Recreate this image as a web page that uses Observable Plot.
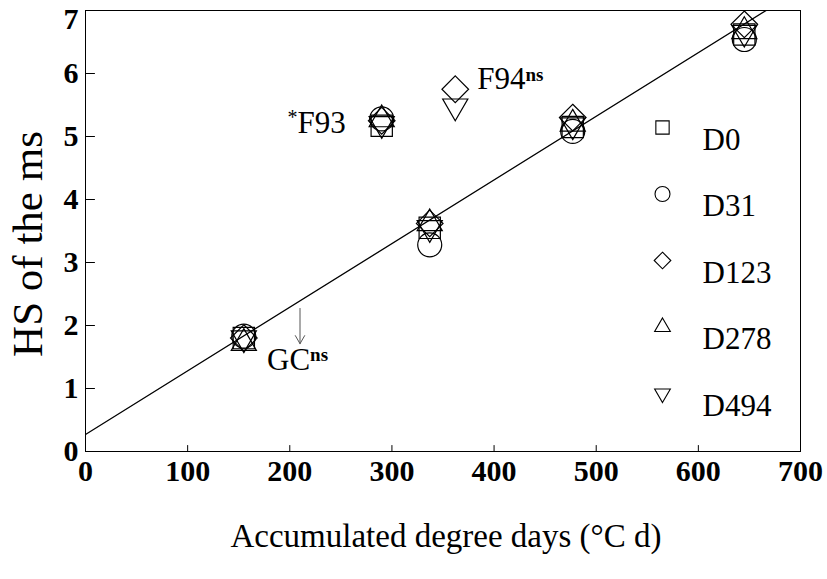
<!DOCTYPE html>
<html>
<head>
<meta charset="utf-8">
<script src="https://cdn.jsdelivr.net/npm/d3@7"></script>
<script src="https://cdn.jsdelivr.net/npm/@observablehq/plot@0.6"></script>
<style>
  body { margin: 0; background: #fff; }
</style>
</head>
<body>
<div id="chart"></div>
<script>
// Sowing dates (days) and the sampling occasions, in accumulated degree days
const series = ["D0", "D31", "D123", "D278", "D494"];
const occasionDays = [155, 290, 337, 362, 477, 645];

// Haun stage of the main stem per sowing, aligned with occasionDays (null = not sampled)
const hsD0   = [1.80, 5.17, 3.55, null, 5.15, 6.62];
const hsD31  = [1.83, 5.28, 3.28, null, 5.08, 6.54];
const hsD123 = [1.80, 5.25, 3.62, 5.75, 5.30, 6.78];
const hsD278 = [1.72, 5.27, 3.62, null, 5.20, 6.67];
const hsD494 = [1.80, 5.20, 3.55, 5.48, 5.18, 6.65];

// Common linear fit HS = a + b * degree days
const fitIntercept = 0.27;
const fitSlope = 0.0101;
const fitRange = [0, 700];

// Growth cessation day and the annotated occasions
const gcDay = 210;
const annoText = ["F93", "F94", "GC"];
const annoPrefix = ["*", "", ""];
const annoSuffix = ["", "ns", "ns"];

const xTicks = [0, 100, 200, 300, 400, 500, 600, 700];
const yTicks = [0, 1, 2, 3, 4, 5, 6, 7];

// Long table for the dot mark
const hsBySeries = [hsD0, hsD31, hsD123, hsD278, hsD494];
const points = [];
series.forEach((s, i) => {
  occasionDays.forEach((x, j) => {
    const y = hsBySeries[i][j];
    if (y != null) points.push({series: s, x, y});
  });
});

// Downward-pointing triangle, same proportions as d3.symbolTriangle2
const triangleDown = {
  draw(context, size) {
    const s = Math.sqrt(size) * 0.6824;
    const t = s / 2;
    const u = (s * Math.sqrt(3)) / 2;
    context.moveTo(0, s);
    context.lineTo(u, -t);
    context.lineTo(-u, -t);
    context.closePath();
  }
};

// Short inward tick
const tickShape = {
  draw(context, l) {
    context.moveTo(0, 0);
    context.lineTo(0, -l);
  }
};

const fit = (x) => fitIntercept + fitSlope * x;
const font = "'Liberation Serif', 'Times New Roman', serif";

const legendMarks = series.flatMap((s, i) => {
  const dy = 117 + i * 66.5;
  return [
    Plot.dot([s], {frameAnchor: "top-left", symbol: (d) => d, r: 7.5, dx: 577, dy,
      stroke: "black", strokeWidth: 1.1, fill: "none"}),
    Plot.text([s], {frameAnchor: "top-left", text: (d) => d, dx: 617, dy,
      textAnchor: "start", fontSize: 31, fill: "black"})
  ];
});

// Annotation anchors: F93 and F94 beside their points, GC at the foot of its arrow
const annoAnchors = [
  {x: occasionDays[1], y: 5.22, dx: -36, dy: 0, textAnchor: "end"},
  {x: occasionDays[3], y: 5.75, dx: 22, dy: -10, textAnchor: "start"},
  {x: gcDay, y: fit(gcDay) - 0.68, dx: -33, dy: 16, textAnchor: "start"}
];
const annoMarks = annoText.map((t, i) => {
  const a = annoAnchors[i];
  return Plot.text([t], {x: () => a.x, y: () => a.y, text: (d) => d, dx: a.dx, dy: a.dy,
    textAnchor: a.textAnchor, fontSize: 31, fill: "black", className: `anno-${i}`});
});

const svg = Plot.plot({
  width: 827,
  height: 579,
  marginLeft: 85,
  marginRight: 27,
  marginTop: 10,
  marginBottom: 128,
  style: {fontFamily: font, background: "white", color: "black", overflow: "visible"},
  x: {domain: [0, 700]},
  y: {domain: [0, 7]},
  symbol: {domain: series, range: ["square", "circle", "diamond2", "triangle2", triangleDown]},
  marks: [
    Plot.frame({stroke: "black", strokeWidth: 1}),
    Plot.axisX(xTicks, {tickSize: 0, tickPadding: 8, fontSize: 30, fontWeight: "bold", label: null}),
    Plot.axisY(yTicks.slice(0, -1), {tickSize: 0, tickPadding: 7, tickFormat: "d", fontSize: 30, fontWeight: "bold", label: null}),
    // the top label hangs just below its tick
    Plot.axisY(yTicks.slice(-1), {tickSize: 0, tickPadding: 7, tickFormat: "d", fontSize: 30, fontWeight: "bold",
      lineAnchor: "top", dy: -3, label: null}),
    Plot.vector(xTicks, {x: (d) => d, frameAnchor: "bottom", length: 6, anchor: "start",
      shape: tickShape, stroke: "black", strokeWidth: 1}),
    Plot.vector(yTicks, {y: (d) => d, frameAnchor: "left", length: 9, rotate: 90, anchor: "start",
      shape: tickShape, stroke: "black", strokeWidth: 1}),
    Plot.line(fitRange, {x: (d) => d, y: (d) => fit(d), clip: true, stroke: "black", strokeWidth: 1.3}),
    Plot.dot(points, {x: "x", y: "y", symbol: "series", r: 12, stroke: "black", strokeWidth: 1.2, fill: "none"}),
    Plot.arrow([gcDay], {x1: (d) => d, x2: (d) => d, y1: (d) => fit(d) - 0.12, y2: (d) => fit(d) - 0.68,
      stroke: "#555", strokeWidth: 1, headLength: 14}),
    ...annoMarks,
    ...legendMarks,
    Plot.text(["Accumulated degree days (°C d)"], {frameAnchor: "bottom", dx: 3, dy: 95, fontSize: 33, fill: "black"}),
    Plot.text(["HS of the ms"], {frameAnchor: "left", textAnchor: "middle", rotate: -90, dx: -57, dy: 13,
      fontSize: 43, fill: "black"})
  ]
});

// Prefix and superscript parts of the annotation labels
annoText.forEach((t, i) => {
  d3.select(svg).selectAll(`g.anno-${i} text`).each(function () {
    const el = d3.select(this);
    el.text(null);
    if (annoPrefix[i]) {
      el.append("tspan").attr("font-size", 20).attr("dy", "-0.45em").text(annoPrefix[i]);
      el.append("tspan").attr("dy", "0.3em").text(t);
    } else {
      el.append("tspan").text(t);
    }
    if (annoSuffix[i]) {
      el.append("tspan").attr("font-size", 19).attr("font-weight", "bold").attr("dy", "-0.45em").text(annoSuffix[i]);
    }
  });
});

document.getElementById("chart").append(svg);
</script>
</body>
</html>
